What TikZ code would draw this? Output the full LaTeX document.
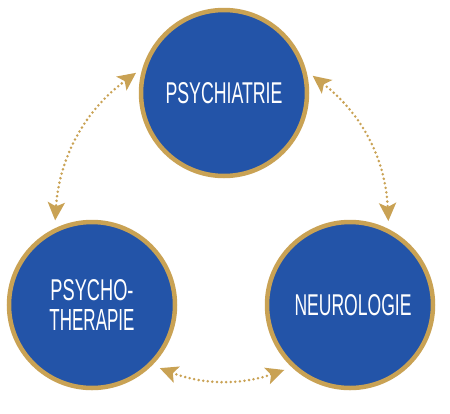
\documentclass[tikz,border=0pt]{standalone}
\usepackage{fontspec}
\setmainfont{Liberation Sans}
\usetikzlibrary{arrows.meta}
\definecolor{royal}{RGB}{35,84,168}
\definecolor{gold}{RGB}{201,162,84}
\newcommand{\decoline}[2]{\resizebox{#1}{21pt}{#2}}
\tikzset{goldtip/.tip={Stealth[length=18pt,width=17pt,inset=4pt]}}
\begin{document}
\begin{tikzpicture}[x=1pt,y=-1pt,
  disc/.style={circle, draw=gold, fill=royal, line width=4.5pt,
    minimum size=166pt, inner sep=0pt, text=white, align=center},
  conn/.style={draw=gold, line width=2.8pt, line cap=round,
    dash pattern=on 0pt off 4.6pt, {goldtip}-{goldtip},
    shorten <=8pt, shorten >=8pt}]
\fill[white] (0,0) rectangle (450,413);
\useasboundingbox (0,0) rectangle (450,413);
\node[disc] (psy) at (224,93) {\decoline{117pt}{PSYCHIATRIE}};
\node[disc] (thera) at (92,305) {\decoline{83pt}{PSYCHO-}\\[8pt]\decoline{85pt}{THERAPIE}};
\node[disc] (neuro) at (350,305) {\hspace{6pt}\decoline{117pt}{NEUROLOGIE}};
\draw[conn] (psy.163) to[bend right=25] (thera.116);
\draw[conn] (psy.15) to[bend left=25] (neuro.63);
\draw[conn] (thera.-45) to[bend right=20] (neuro.227);
\end{tikzpicture}
\end{document}
